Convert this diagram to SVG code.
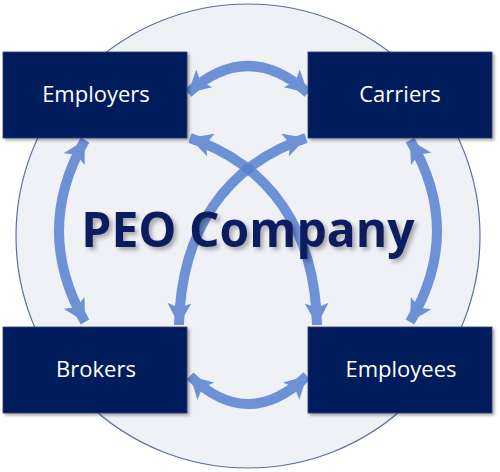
<svg xmlns="http://www.w3.org/2000/svg" width="500" height="472" viewBox="0 0 500 472">
<style>
.box{fill:#001c5c;stroke:#30406a;stroke-width:0.8;filter:url(#sh)}
.lbl{font-family:"Open Sans","Noto Sans",sans-serif;font-size:22px;fill:#ffffff;text-anchor:middle}
.arr{fill:none;stroke:#5681d0;stroke-width:10;opacity:0.85;marker-start:url(#ah);marker-end:url(#ah)}
.title{font-family:"Open Sans","Noto Sans",sans-serif;font-weight:bold;font-size:48px;fill:#0b1e5e;text-anchor:middle;filter:url(#tsh)}
</style>
<defs>
<filter id="sh" x="-10%" y="-10%" width="130%" height="130%">
<feDropShadow dx="2" dy="2" stdDeviation="1.5" flood-color="#000" flood-opacity="0.35"/>
</filter>
<filter id="tsh" x="-10%" y="-20%" width="130%" height="150%">
<feDropShadow dx="3" dy="3" stdDeviation="2" flood-color="#000" flood-opacity="0.3"/>
</filter>
<marker id="ah" markerUnits="userSpaceOnUse" viewBox="0 0 22 24" markerWidth="22" markerHeight="24" refX="22" refY="12" orient="auto-start-reverse">
<path d="M0,0 L22,12 L0,24 L5,12 z" fill="#5681d0"/>
</marker>
</defs>
<rect width="500" height="472" fill="#ffffff"/>
<circle id="background" cx="248" cy="236" r="232" fill="#eff1f7" stroke="#5a6e9e" stroke-width="1.2"/>
<g id="connectors">
<path class="arr" d="M188,93 Q248,39 308,93"/>
<path class="arr" d="M190,376 Q248,432 307,376"/>
<path class="arr" d="M85,140 Q33,231 85,322"/>
<path class="arr" d="M410,140 Q464,231 410,322"/>
<path class="arr" d="M190,138 C270,165 315,230 317,325"/>
<path class="arr" d="M306,138 C226,165 181,230 179,325"/>
</g>
<g id="title">
<text class="title" x="248" y="247">PEO Company</text>
</g>
<g id="employers">
<rect class="box" x="3" y="52" width="184" height="86"/>
<text class="lbl" x="96" y="102">Employers</text>
</g>
<g id="carriers">
<rect class="box" x="308" y="52" width="184" height="86"/>
<text class="lbl" x="400" y="102">Carriers</text>
</g>
<g id="brokers">
<rect class="box" x="3" y="327" width="184" height="86"/>
<text class="lbl" x="96" y="377">Brokers</text>
</g>
<g id="employees">
<rect class="box" x="308" y="327" width="184" height="86"/>
<text class="lbl" x="401" y="377">Employees</text>
</g>
</svg>
